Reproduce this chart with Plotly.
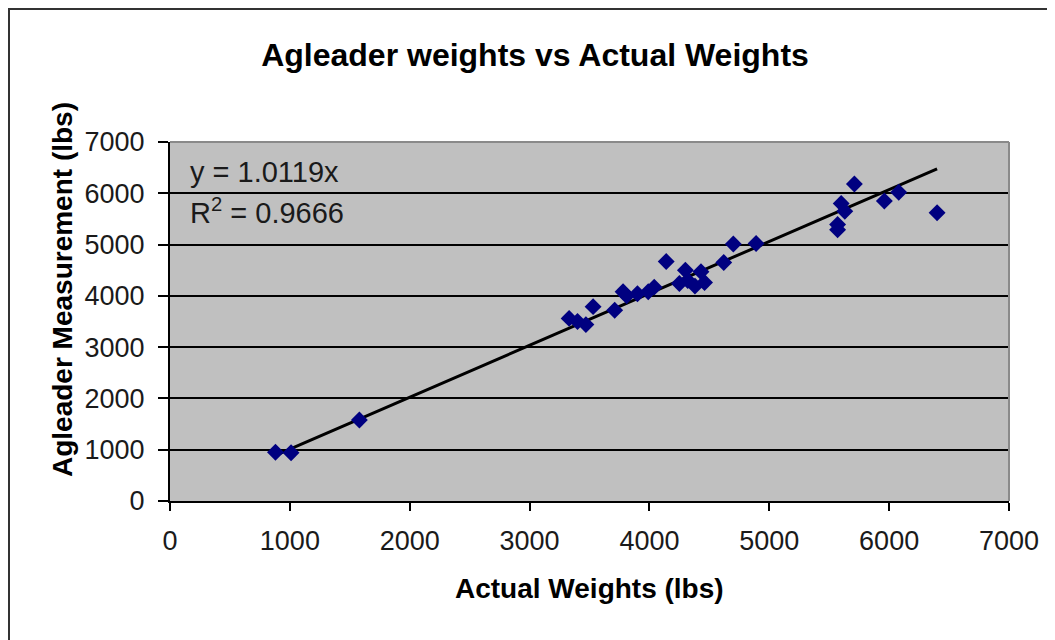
import plotly.graph_objects as go

actual_weights = [880, 1010, 1580, 3330, 3400, 3470, 3530, 3710, 3780, 3810,
                  3900, 3990, 4040, 4140, 4250, 4300, 4320, 4380, 4430, 4460,
                  4620, 4700, 4890, 5570, 5570, 5600, 5630, 5710, 5960, 6080, 6400]
agleader_weights = [950, 940, 1580, 3560, 3500, 3440, 3790, 3720, 4080, 4000,
                    4040, 4080, 4170, 4670, 4240, 4500, 4300, 4190, 4470, 4260,
                    4650, 5010, 5020, 5290, 5390, 5800, 5650, 6180, 5850, 6020, 5620]
slope = 1.0119
r_squared = 0.9666
tick_vals = [0, 1000, 2000, 3000, 4000, 5000, 6000, 7000]

trend_x = [min(actual_weights), max(actual_weights)]
trend_y = [slope * v for v in trend_x]

FONT = "Liberation Sans, Arial, sans-serif"

# plot area in figure pixels (page is offset 8px by body margin)
L, T, R, B = 162, 134, 1001, 493
PW, PH = R - L, B - T


def px(fx):
    return (fx - L) / PW


def py(fy):
    return (B - fy) / PH


fig = go.Figure()
fig.add_trace(go.Scatter(
    x=trend_x, y=trend_y, mode="lines",
    line=dict(color="black", width=3), showlegend=False, hoverinfo="skip"))
fig.add_trace(go.Scatter(
    x=actual_weights, y=agleader_weights, mode="markers",
    marker=dict(symbol="diamond", color="#000080", size=13, line=dict(width=0)),
    showlegend=False))

fig.update_layout(
    width=1055, height=640,
    margin=dict(l=L, r=1055 - R, t=T, b=640 - B),
    paper_bgcolor="white", plot_bgcolor="#C0C0C0",
    font=dict(family=FONT, color="black"),
    title=dict(text="<b>Agleader weights vs Actual Weights</b>", x=px(527),
               xanchor="center", xref="paper", y=1 - 47 / 640, yanchor="middle",
               font=dict(size=32, family=FONT, color="black")),
    xaxis=dict(range=[0, 7000], tickvals=tick_vals, showgrid=False, zeroline=False,
               showline=True, linecolor="black", linewidth=2,
               ticks="outside", ticklen=8, tickcolor="black", tickwidth=2,
               ticklabelstandoff=7,
               tickfont=dict(size=27, color="#1a1a1a")),
    yaxis=dict(range=[0, 7000], tickvals=tick_vals, showgrid=True, gridcolor="black",
               gridwidth=1.5, zeroline=False,
               showline=True, linecolor="black", linewidth=2,
               ticks="outside", ticklen=10, tickcolor="black", tickwidth=2,
               ticklabelstandoff=8,
               tickfont=dict(size=27, color="#1a1a1a")),
    annotations=[
        dict(text="<b>Actual Weights (lbs)</b>", xref="paper", yref="paper",
             x=0.5, y=py(580), xanchor="center", yanchor="middle", showarrow=False,
             font=dict(size=28, color="black")),
        dict(text="<b>Agleader Measurement (lbs)</b>", xref="paper", yref="paper",
             x=px(54), y=py(282), xanchor="center", yanchor="middle",
             showarrow=False, textangle=-90,
             font=dict(size=28, color="black")),
        dict(text=f"y = {slope}x", xref="paper", yref="paper", x=px(180), y=py(164),
             xanchor="left", yanchor="middle", showarrow=False,
             font=dict(size=29, color="#1a1a1a")),
        dict(text=f"R<sup>2</sup> = {r_squared}", xref="paper", yref="paper",
             x=px(180), y=py(203), xanchor="left", yanchor="middle", showarrow=False,
             font=dict(size=29, color="#1a1a1a")),
    ],
    shapes=[
        dict(type="line", xref="paper", yref="paper", x0=0, x1=1, y0=1, y1=1,
             line=dict(color="#8a8a8a", width=2), layer="above"),
        dict(type="line", xref="paper", yref="paper", x0=1, x1=1, y0=0, y1=1,
             line=dict(color="#8a8a8a", width=2), layer="above"),
        dict(type="rect", xref="paper", yref="paper",
             x0=px(1), x1=px(1070), y0=py(660), y1=py(1),
             line=dict(color="#333", width=2), fillcolor="rgba(0,0,0,0)",
             layer="above"),
    ],
)

fig.write_html("out.html")
